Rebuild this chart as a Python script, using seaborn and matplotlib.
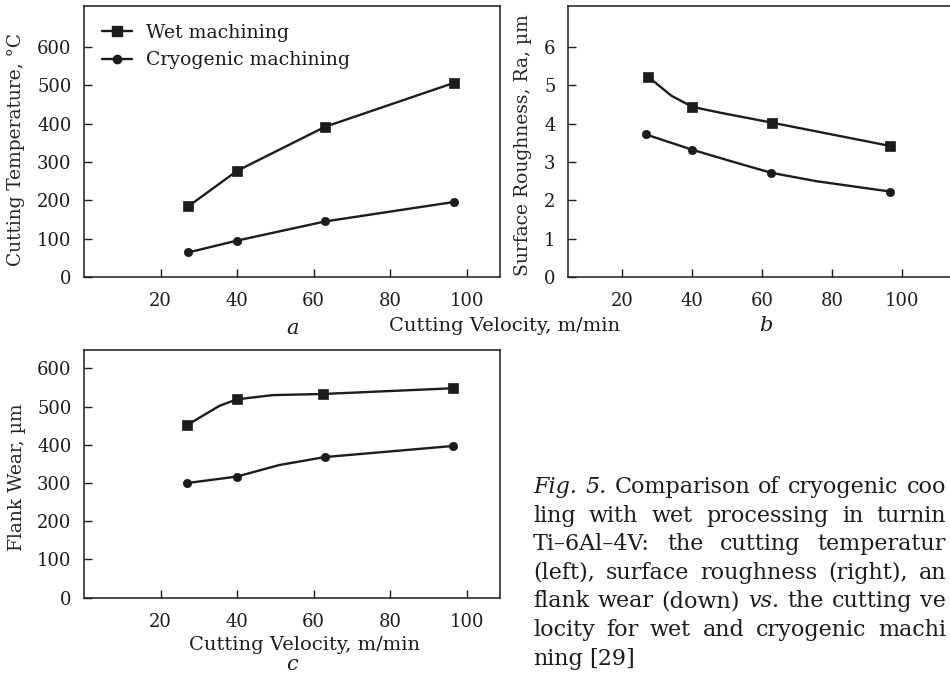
import matplotlib.pyplot as plt
import seaborn as sns
from matplotlib.lines import Line2D

# panel a: cutting temperature (measured points)
speed_a = [27.2, 40, 63, 96.8]
temp_wet = [184, 277, 392, 507]
temp_cryo = [64, 95, 145, 196]

# panel b: surface roughness (markers) and points along the drawn curves
speed_b_wet = [27.3, 40, 62.6, 96.5]
rough_wet = [5.23, 4.44, 4.03, 3.42]
curve_b_wet_x = [27.3, 34, 40, 47.8, 62.6, 96.5]
curve_b_wet_y = [5.23, 4.73, 4.44, 4.29, 4.03, 3.42]
speed_b_cryo = [26.7, 40, 62.5, 96.5]
rough_cryo = [3.72, 3.32, 2.72, 2.23]
curve_b_cryo_x = [26.7, 40, 52.6, 62.5, 75.4, 96.5]
curve_b_cryo_y = [3.72, 3.32, 2.98, 2.72, 2.50, 2.23]

# panel c: flank wear
speed_c_wet = [27, 40, 62.5, 96.5]
wear_wet = [452, 519, 533, 548]
curve_c_wet_x = [27, 35.4, 40, 49.3, 62.5, 96.5]
curve_c_wet_y = [452, 502, 519, 530, 533, 548]
speed_c_cryo = [27, 40, 63, 96.5]
wear_cryo = [300, 317, 368, 397]
curve_c_cryo_x = [27, 40, 51, 63, 96.5]
curve_c_cryo_y = [300, 317, 347, 368, 397]

# caption as far as it is visible in the page crop
caption_lines = [
    "Fig. 5. Comparison of cryogenic coo",
    "ling with wet processing in turnin",
    "Ti\u20136Al\u20134V: the cutting temperatur",
    "(left), surface roughness (right), an",
    "flank wear (down) vs. the cutting ve",
    "locity for wet and cryogenic machi",
    "ning [29]",
]
italic_words = {"Fig.", "5.", "vs."}

sns.set_theme(style="ticks")
plt.rcParams["font.family"] = ["DejaVu Serif"]
plt.rcParams["text.color"] = "#1c1c1c"

INK = "#1c1c1c"
LW = 1.7
LABEL_FS = 14


def style_axes(ax, xlim, ylim, yticks):
    ax.set_xlim(*xlim)
    ax.set_ylim(*ylim)
    ax.set_xticks([20, 40, 60, 80, 100])
    ax.set_yticks(yticks)
    ax.tick_params(direction="in", length=6, width=1, colors=INK,
                   labelsize=13, pad=9)
    ax.tick_params(axis="x", pad=11)
    for s in ax.spines.values():
        s.set_color(INK)
        s.set_linewidth(1.1)
    ax.set_xlabel("")


def draw(ax, cx, cy, mx, my, marker, size):
    sns.lineplot(x=cx, y=cy, ax=ax, color=INK, lw=LW, sort=False,
                 estimator=None)
    sns.scatterplot(x=mx, y=my, ax=ax, marker=marker, s=size, color=INK,
                    edgecolor=INK, linewidth=0.5, zorder=3)


fig = plt.figure(figsize=(9.5, 6.74), dpi=100)
ax_a = fig.add_axes([0.0884, 0.589, 0.4379, 0.402])
ax_b = fig.add_axes([0.598, 0.589, 0.422, 0.402])
ax_c = fig.add_axes([0.0884, 0.1132, 0.4379, 0.3675])

draw(ax_a, speed_a, temp_wet, speed_a, temp_wet, "s", 60)
draw(ax_a, speed_a, temp_cryo, speed_a, temp_cryo, "o", 36)
style_axes(ax_a, (0, 108.7), (0, 707), range(0, 601, 100))
ax_a.set_ylabel("Cutting Temperature, \u00b0C", fontsize=13.4)
ax_a.yaxis.set_label_coords(-0.142, 0.47)

handles = [
    Line2D([], [], color=INK, lw=LW, marker="s", markersize=7.5),
    Line2D([], [], color=INK, lw=LW, marker="o", markersize=6),
]
ax_a.legend(handles, ["Wet machining", "Cryogenic machining"],
            loc="upper left", bbox_to_anchor=(0.043, 0.935), frameon=False,
            fontsize=13.6, handlelength=1.6, handletextpad=0.75,
            labelspacing=0.5, borderpad=0, borderaxespad=0)

draw(ax_b, curve_b_wet_x, curve_b_wet_y, speed_b_wet, rough_wet, "s", 60)
draw(ax_b, curve_b_cryo_x, curve_b_cryo_y, speed_b_cryo, rough_cryo, "o", 36)
style_axes(ax_b, (4.5, 119), (0, 7.07), range(0, 7))
ax_b.set_ylabel("Surface Roughness, Ra, \u00b5m", fontsize=13.5)
ax_b.yaxis.set_label_coords(-0.091, 0.487)

draw(ax_c, curve_c_wet_x, curve_c_wet_y, speed_c_wet, wear_wet, "s", 60)
draw(ax_c, curve_c_cryo_x, curve_c_cryo_y, speed_c_cryo, wear_cryo, "o", 36)
style_axes(ax_c, (0, 108.7), (0, 648), range(0, 601, 100))
ax_c.set_ylabel("Flank Wear, \u00b5m", fontsize=13.5)
ax_c.yaxis.set_label_coords(-0.139, 0.488)

# shared x label for a and b, panel letters
fig.text(505 / 950, 1 - 326 / 674, "Cutting Velocity, m/min",
         fontsize=LABEL_FS, ha="center", va="center")
fig.text(293 / 950, 1 - 329 / 674, "a", fontsize=15, style="italic",
         ha="center", va="center")
fig.text(766 / 950, 1 - 326 / 674, "b", fontsize=15, style="italic",
         ha="center", va="center")
fig.text(305 / 950, 1 - 645 / 674, "Cutting Velocity, m/min",
         fontsize=LABEL_FS, ha="center", va="center")
fig.text(292 / 950, 1 - 665 / 674, "c", fontsize=15, style="italic",
         ha="center", va="center")

# justified caption: words spread between left and right margins
renderer = fig.canvas.get_renderer()
cap_left, cap_right = 533, 946
for i, line in enumerate(caption_lines):
    y = 1 - (487 + i * 28.6) / 674
    words = line.split(" ")
    texts = [fig.text(0, y, w, fontsize=16, ha="left", va="center",
                      style="italic" if w in italic_words else "normal")
             for w in words]
    widths = [t.get_window_extent(renderer).width for t in texts]
    if i == len(caption_lines) - 1:
        gap = 6.5
    else:
        gap = (cap_right - cap_left - sum(widths)) / (len(words) - 1)
    x = cap_left
    for t, w in zip(texts, widths):
        t.set_x(x / 950)
        x += w + gap

fig.savefig("out.png", dpi=100, facecolor="white")
